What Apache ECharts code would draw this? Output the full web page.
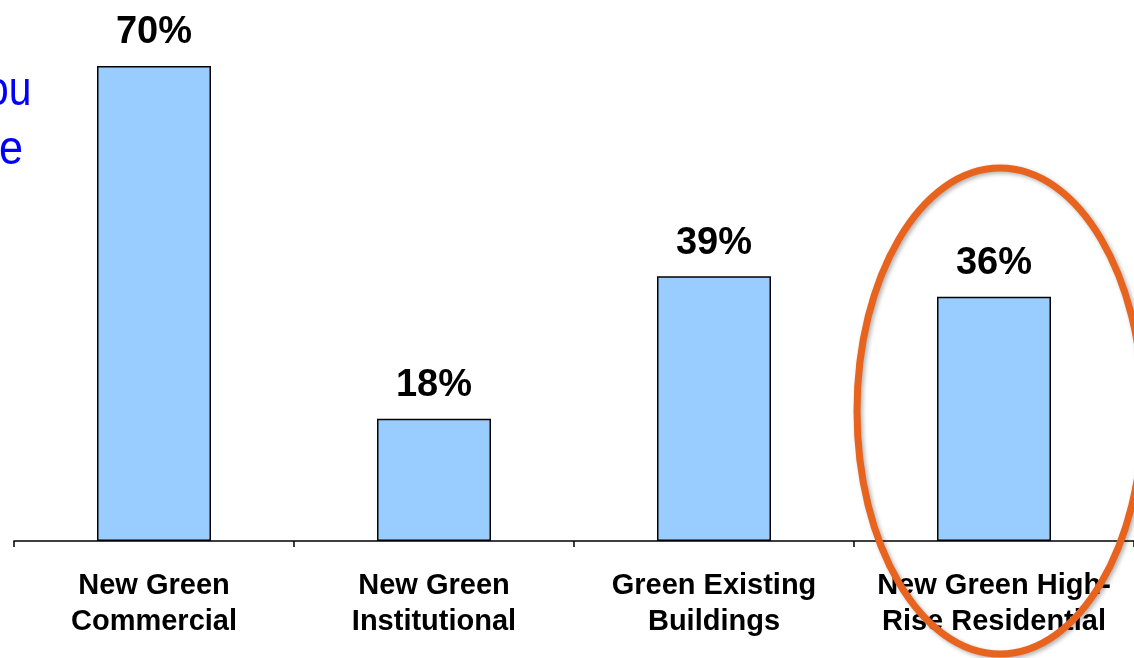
<!DOCTYPE html>
<html><head><meta charset="utf-8">
<script src="https://cdn.jsdelivr.net/npm/echarts@6/dist/echarts.min.js"></script>
<style>html,body{margin:0;padding:0;background:#fff}#c{width:1134px;height:658px}</style>
</head><body><div id="c"></div>
<script>
const categories = ['New Green\nCommercial', 'New Green\nInstitutional', 'Green Existing\nBuildings', 'New Green High-\nRise Residential'];
const values = [70, 18, 39, 36];
const labelSuffix = '%';

const chart = echarts.init(document.getElementById('c'));
chart.setOption({
  animation: false,
  grid: { left: 14, top: 66, bottom: 117, width: 1122 },
  xAxis: {
    type: 'category', data: categories,
    axisLine: { lineStyle: { color: '#000', width: 1.5 } },
    axisTick: { show: true, length: 6, lineStyle: { color: '#000', width: 1.5 }, alignWithLabel: false },
    axisLabel: { interval: 0, color: '#000', fontFamily: 'Liberation Sans, Arial', fontWeight: 'bold', fontSize: 29, lineHeight: 36, margin: 27 }
  },
  yAxis: { type: 'value', min: 0, max: 70, show: false, splitLine: { show: false } },
  series: [{
    type: 'bar', data: values, barWidth: 114,
    itemStyle: { color: '#99CCFF', borderColor: '#000', borderWidth: 1.5 },
    label: { show: true, position: 'top', distance: 14, formatter: p => p.value + labelSuffix,
      color: '#000', fontFamily: 'Liberation Sans, Arial', fontWeight: 'bold', fontSize: 38 }
  }],
  graphic: [
    { type: 'text', x: -14, y: 68, scaleX: 0.85, style: { text: 'ou', fill: '#0000FF', font: '48px "Liberation Sans", Arial', shadowColor: 'rgba(0,0,0,0.35)', shadowBlur: 3, shadowOffsetX: 2, shadowOffsetY: 2 } },
    { type: 'text', x: -1, y: 127, scaleX: 0.9, style: { text: 'e', fill: '#0000FF', font: '48px "Liberation Sans", Arial', shadowColor: 'rgba(0,0,0,0.35)', shadowBlur: 3, shadowOffsetX: 2, shadowOffsetY: 2 } },
    { type: 'ellipse', shape: { cx: 1000, cy: 411, rx: 143, ry: 243 }, z: 100,
      style: { fill: 'none', stroke: '#E8631E', lineWidth: 7, shadowColor: 'rgba(0,0,0,0.3)', shadowBlur: 4, shadowOffsetX: 2, shadowOffsetY: 2 } }
  ]
});
</script></body></html>
